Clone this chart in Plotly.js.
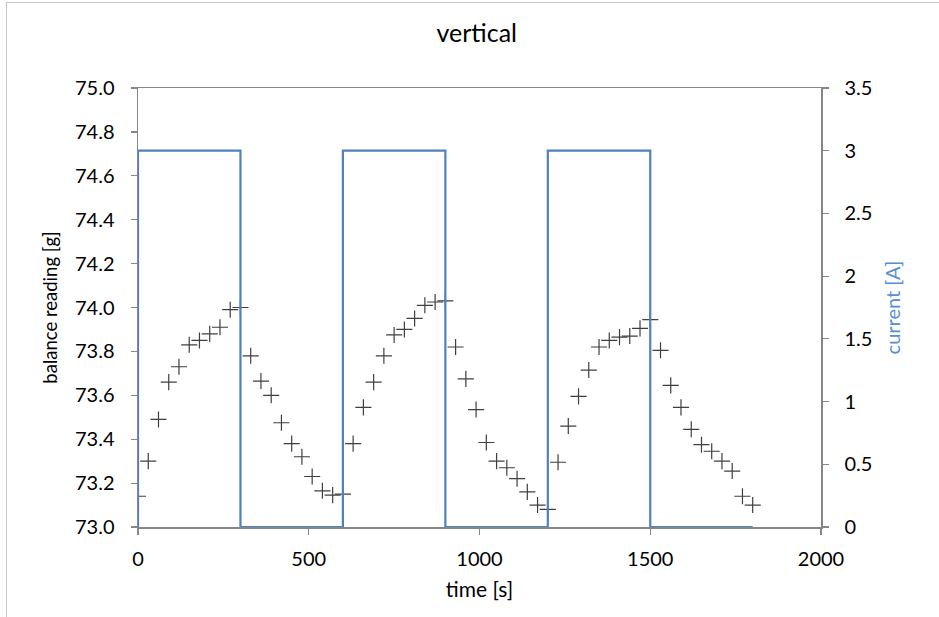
<!DOCTYPE html>
<html>
<head>
<meta charset="utf-8">
<script src="https://cdn.plot.ly/plotly-3.0.1.min.js"></script>
<style>
  html, body { margin: 0; padding: 0; overflow: hidden; background: #ffffff; }
  #chart { position: absolute; left: 0; top: 0; width: 939px; height: 617px; }
  #frame { position: absolute; left: 6px; top: 2px; width: 1200px; height: 900px;
           border-left: 1px solid #c8c8c8; border-top: 1px solid #c8c8c8; pointer-events: none; }
</style>
</head>
<body>
<div id="chart"></div>
<div id="frame"></div>
<script>
// Balance readings, sampled every 30 s
const timeS = [0, 30, 60, 90, 120, 150, 180, 210, 240, 270,
               300, 330, 360, 390, 420, 450, 480, 510, 540, 570,
               600, 630, 660, 690, 720, 750, 780, 810, 840, 870,
               900, 930, 960, 990, 1020, 1050, 1080, 1110, 1140, 1170,
               1200, 1230, 1260, 1290, 1320, 1350, 1380, 1410, 1440, 1470,
               1500, 1530, 1560, 1590, 1620, 1650, 1680, 1710, 1740, 1770,
               1800];
const balanceG = [73.14, 73.30, 73.49, 73.66, 73.73, 73.83, 73.85, 73.88, 73.91, 73.99,
                  74.00, 73.78, 73.665, 73.60, 73.475, 73.38, 73.32, 73.23, 73.165, 73.145,
                  73.15, 73.38, 73.545, 73.66, 73.78, 73.875, 73.90, 73.95, 74.01, 74.025,
                  74.03, 73.82, 73.675, 73.535, 73.385, 73.30, 73.27, 73.22, 73.16, 73.10,
                  73.08, 73.295, 73.46, 73.595, 73.715, 73.82, 73.85, 73.865, 73.87, 73.905,
                  73.945, 73.805, 73.645, 73.545, 73.445, 73.375, 73.345, 73.30, 73.255, 73.14,
                  73.10];
// Current step profile
const currentT = [0, 0, 300, 300, 600, 600, 900, 900, 1200, 1200, 1500, 1500, 1800];
const currentA = [0, 3, 3, 0, 0, 3, 3, 0, 0, 3, 3, 0, 0];

const FONT = 'Lato, "Open Sans", sans-serif';
const AXIS_GRAY = '#868686';

const traces = [
  {
    x: timeS, y: balanceG, type: 'scatter', mode: 'markers',
    marker: { symbol: 'cross-thin-open', size: 11.5, color: '#3f3f3f',
              line: { color: '#3f3f3f', width: 1.2 } },
    xaxis: 'x', yaxis: 'y', hoverinfo: 'x+y'
  },
  {
    x: currentT, y: currentA, type: 'scatter', mode: 'lines',
    line: { color: '#4f81bd', width: 2.2 },
    xaxis: 'x', yaxis: 'y2', hoverinfo: 'x+y'
  }
];

const layout = {
  width: 939, height: 617,
  margin: { l: 138, r: 118, t: 88, b: 90, pad: 0 },
  paper_bgcolor: '#ffffff', plot_bgcolor: '#ffffff',
  showlegend: false,
  font: { family: FONT, size: 20, color: '#000000' },
  title: { text: 'vertical', font: { family: FONT, size: 25, color: '#000000' },
           xref: 'paper', x: 0.496, xanchor: 'center',
           yref: 'container', y: 0.946, yanchor: 'middle' },
  xaxis: {
    range: [0, 2000], dtick: 500, tick0: 0,
    showgrid: false, zeroline: false,
    showline: true, linecolor: AXIS_GRAY, linewidth: 1.5, mirror: true,
    ticks: 'outside', ticklen: 6, tickcolor: AXIS_GRAY, tickwidth: 1.2,
    ticklabelstandoff: 7,
    tickfont: { family: FONT, size: 20, color: '#000000' },
    title: { text: 'time [s]', font: { family: FONT, size: 21, color: '#000000' }, standoff: 14 }
  },
  yaxis: {
    range: [73, 75], dtick: 0.2, tick0: 73, tickformat: '.1f',
    showgrid: false, zeroline: false,
    showline: true, linecolor: AXIS_GRAY, linewidth: 1.5,
    ticks: 'outside', ticklen: 6, tickcolor: AXIS_GRAY, tickwidth: 1.2,
    ticklabelstandoff: 12,
    tickfont: { family: FONT, size: 20, color: '#000000' },
    title: { text: 'balance reading [g]', font: { family: FONT, size: 18.5, color: '#000000' }, standoff: 12 }
  },
  yaxis2: {
    overlaying: 'y', side: 'right',
    range: [0, 3.5], dtick: 0.5, tick0: 0,
    showgrid: false, zeroline: false,
    showline: true, linecolor: AXIS_GRAY, linewidth: 1.5,
    ticks: 'outside', ticklen: 6, tickcolor: AXIS_GRAY, tickwidth: 1.2,
    ticklabelstandoff: 12,
    tickfont: { family: FONT, size: 20, color: '#000000' },
    title: { text: 'current [A]', font: { family: FONT, size: 20, color: '#558ed5' }, standoff: 14 }
  }
};

Plotly.newPlot('chart', traces, layout, { displayModeBar: false, staticPlot: true });
</script>
</body>
</html>
